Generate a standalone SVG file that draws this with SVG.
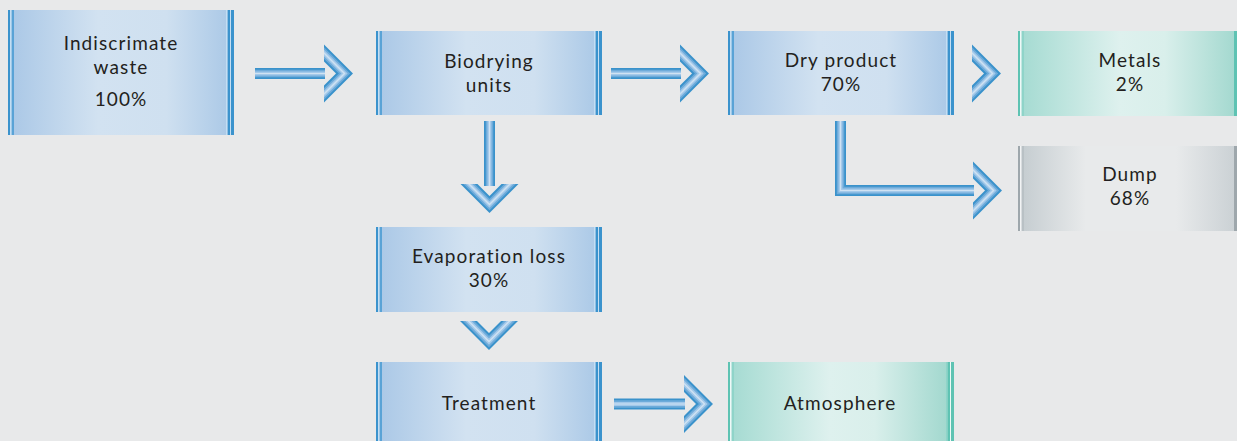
<svg xmlns="http://www.w3.org/2000/svg" xmlns:xlink="http://www.w3.org/1999/xlink" width="1237" height="441" viewBox="0 0 1237 441">
<style>
text{font-family:Lato,"Open Sans","Liberation Sans",sans-serif;font-size:19px;letter-spacing:1.1px;font-weight:400;fill:#231f20;text-anchor:middle}
.bd{fill:#3b93cd}.bl{fill:#c4def3}.bm{fill:#5aa3d6}
.td{fill:#5ec3b3}.tl{fill:#eef9f7}.tm{fill:#8fd4c9}
.gd{fill:#9ea7ac}.gl{fill:#f2f4f5}.gm{fill:#b9c1c5}
.s1,.s2,.s3,.s4{fill:none;stroke-linejoin:miter;stroke-linecap:butt}
.s1{stroke:#3a92cb;stroke-width:11}
.s2{stroke:#6eabda;stroke-width:7.5}
.s3{stroke:#a3c9ea;stroke-width:4}
.s4{stroke:#cfe2f3;stroke-width:1.2}
.c1,.c2,.c3,.c4{fill:none;stroke-linejoin:miter;stroke-linecap:butt}
.c1{stroke:#3a92cb;stroke-width:12}
.c2{stroke:#6eabda;stroke-width:8}
.c3{stroke:#a3c9ea;stroke-width:4.5}
.c4{stroke:#cfe2f3;stroke-width:1.5}
</style>
<defs>
<linearGradient id="gBlue" x1="0" y1="0" x2="1" y2="0">
<stop offset="0" stop-color="#a9c7e6"/><stop offset="0.4" stop-color="#d2e2f1"/><stop offset="0.7" stop-color="#cfe0f0"/><stop offset="1" stop-color="#a8c7e6"/>
</linearGradient>
<linearGradient id="gTeal" x1="0" y1="0" x2="1" y2="0">
<stop offset="0" stop-color="#a3dad1"/><stop offset="0.45" stop-color="#def1ee"/><stop offset="0.65" stop-color="#d9efeb"/><stop offset="1" stop-color="#9dd6cc"/>
</linearGradient>
<linearGradient id="gGrey" x1="0" y1="0" x2="1" y2="0">
<stop offset="0" stop-color="#c3cbcf"/><stop offset="0.3" stop-color="#e8eaeb"/><stop offset="0.7" stop-color="#e8eaeb"/><stop offset="1" stop-color="#c6cdd1"/>
</linearGradient>
<clipPath id="chClip"><rect x="-29" y="-40" width="31" height="80"/></clipPath>
<g id="chev" clip-path="url(#chClip)">
<polyline class="c1" points="-48.5,-40 -8.5,0 -48.5,40"/>
<polyline class="c2" points="-48.5,-40 -8.5,0 -48.5,40"/>
<polyline class="c3" points="-48.5,-40 -8.5,0 -48.5,40"/>
<polyline class="c4" points="-48.5,-40 -8.5,0 -48.5,40"/>
</g>
</defs>
<rect width="1237" height="441" fill="#e8e9ea"/>

<g id="connectors">
<g id="shaft1"><polyline class="s1" points="255,73.5 325,73.5"/><polyline class="s2" points="255,73.5 325,73.5"/><polyline class="s3" points="255,73.5 325,73.5"/><polyline class="s4" points="255,73.5 325,73.5"/></g>
<use xlink:href="#chev" href="#chev" transform="translate(353,73.5)"/>
<g id="shaft2"><polyline class="s1" points="611,73.5 681,73.5"/><polyline class="s2" points="611,73.5 681,73.5"/><polyline class="s3" points="611,73.5 681,73.5"/><polyline class="s4" points="611,73.5 681,73.5"/></g>
<use xlink:href="#chev" href="#chev" transform="translate(709,73.5)"/>
<use xlink:href="#chev" href="#chev" transform="translate(1001,73.5)"/>
<g id="shaft3"><polyline class="s1" points="489.5,121 489.5,186"/><polyline class="s2" points="489.5,121 489.5,186"/><polyline class="s3" points="489.5,121 489.5,186"/><polyline class="s4" points="489.5,121 489.5,186"/></g>
<use xlink:href="#chev" href="#chev" transform="translate(489.5,213) rotate(90)"/>
<use xlink:href="#chev" href="#chev" transform="translate(489,350) rotate(90)"/>
<g id="shaft4"><polyline class="s1" points="614,404 685,404"/><polyline class="s2" points="614,404 685,404"/><polyline class="s3" points="614,404 685,404"/><polyline class="s4" points="614,404 685,404"/></g>
<use xlink:href="#chev" href="#chev" transform="translate(713,404)"/>
<g id="shaft5"><polyline class="s1" points="840.5,121 840.5,190.5 974,190.5"/><polyline class="s2" points="840.5,121 840.5,190.5 974,190.5"/><polyline class="s3" points="840.5,121 840.5,190.5 974,190.5"/><polyline class="s4" points="840.5,121 840.5,190.5 974,190.5"/></g>
<use xlink:href="#chev" href="#chev" transform="translate(1002,190.5)"/>
</g>

<g id="n-waste">
<rect x="8" y="10" width="226" height="125" fill="url(#gBlue)"/>
<rect class="bd" x="8" y="10" width="2" height="125"/><rect class="bl" x="10" y="10" width="1.7" height="125"/><rect class="bm" x="11.7" y="10" width="2.3" height="125"/>
<rect class="bl" x="226" y="10" width="1.5" height="125"/><rect class="bd" x="227.7" y="10" width="2.3" height="125"/><rect class="bl" x="230" y="10" width="1" height="125"/><rect class="bd" x="231" y="10" width="3" height="125"/>
<text x="121" y="50">Indiscrimate<tspan x="121" dy="24">waste</tspan><tspan x="121" dy="32">100%</tspan></text>
</g>

<g id="n-biodrying">
<rect x="376" y="31" width="226" height="84" fill="url(#gBlue)"/>
<rect class="bd" x="376" y="31" width="2" height="84"/><rect class="bl" x="378" y="31" width="1.7" height="84"/><rect class="bm" x="379.7" y="31" width="2.3" height="84"/>
<rect class="bl" x="594" y="31" width="1.5" height="84"/><rect class="bd" x="595.7" y="31" width="2.3" height="84"/><rect class="bl" x="598" y="31" width="1" height="84"/><rect class="bd" x="599" y="31" width="3" height="84"/>
<text x="489" y="68">Biodrying<tspan x="489" dy="24">units</tspan></text>
</g>

<g id="n-dry">
<rect x="728" y="31" width="226" height="84" fill="url(#gBlue)"/>
<rect class="bd" x="728" y="31" width="2" height="84"/><rect class="bl" x="730" y="31" width="1.7" height="84"/><rect class="bm" x="731.7" y="31" width="2.3" height="84"/>
<rect class="bl" x="946" y="31" width="1.5" height="84"/><rect class="bd" x="947.7" y="31" width="2.3" height="84"/><rect class="bl" x="950" y="31" width="1" height="84"/><rect class="bd" x="951" y="31" width="3" height="84"/>
<text x="841" y="67">Dry product<tspan x="841" dy="24">70%</tspan></text>
</g>

<g id="n-metals">
<rect x="1018" y="31" width="226" height="85" fill="url(#gTeal)"/>
<rect class="td" x="1018" y="31" width="2" height="85"/><rect class="tl" x="1020" y="31" width="1.7" height="85"/><rect class="tm" x="1021.7" y="31" width="2.3" height="85"/>
<rect class="td" x="1234" y="31" width="3" height="85"/>
<text x="1130" y="67">Metals<tspan x="1130" dy="24">2%</tspan></text>
</g>

<g id="n-dump">
<rect x="1018" y="146" width="226" height="85" fill="url(#gGrey)"/>
<rect class="gd" x="1018" y="146" width="2" height="85"/><rect class="gl" x="1020" y="146" width="1.7" height="85"/><rect class="gm" x="1021.7" y="146" width="2.3" height="85"/>
<rect class="gd" x="1234" y="146" width="3" height="85"/>
<text x="1130" y="181">Dump<tspan x="1130" dy="24">68%</tspan></text>
</g>

<g id="n-evap">
<rect x="376" y="227" width="226" height="85" fill="url(#gBlue)"/>
<rect class="bd" x="376" y="227" width="2" height="85"/><rect class="bl" x="378" y="227" width="1.7" height="85"/><rect class="bm" x="379.7" y="227" width="2.3" height="85"/>
<rect class="bl" x="594" y="227" width="1.5" height="85"/><rect class="bd" x="595.7" y="227" width="2.3" height="85"/><rect class="bl" x="598" y="227" width="1" height="85"/><rect class="bd" x="599" y="227" width="3" height="85"/>
<text x="489" y="263">Evaporation loss<tspan x="489" dy="24">30%</tspan></text>
</g>

<g id="n-treatment">
<rect x="376" y="362" width="226" height="85" fill="url(#gBlue)"/>
<rect class="bd" x="376" y="362" width="2" height="85"/><rect class="bl" x="378" y="362" width="1.7" height="85"/><rect class="bm" x="379.7" y="362" width="2.3" height="85"/>
<rect class="bl" x="594" y="362" width="1.5" height="85"/><rect class="bd" x="595.7" y="362" width="2.3" height="85"/><rect class="bl" x="598" y="362" width="1" height="85"/><rect class="bd" x="599" y="362" width="3" height="85"/>
<text x="489" y="410">Treatment</text>
</g>

<g id="n-atmosphere">
<rect x="728" y="362" width="226" height="85" fill="url(#gTeal)"/>
<rect class="td" x="728" y="362" width="2" height="85"/><rect class="tl" x="730" y="362" width="1.7" height="85"/><rect class="tm" x="731.7" y="362" width="2.3" height="85"/>
<rect class="tm" x="946" y="362" width="1.5" height="85"/><rect class="td" x="947.7" y="362" width="2.3" height="85"/><rect class="tl" x="950" y="362" width="1" height="85"/><rect class="td" x="951" y="362" width="3" height="85"/>
<text x="840" y="410">Atmosphere</text>
</g>
</svg>
